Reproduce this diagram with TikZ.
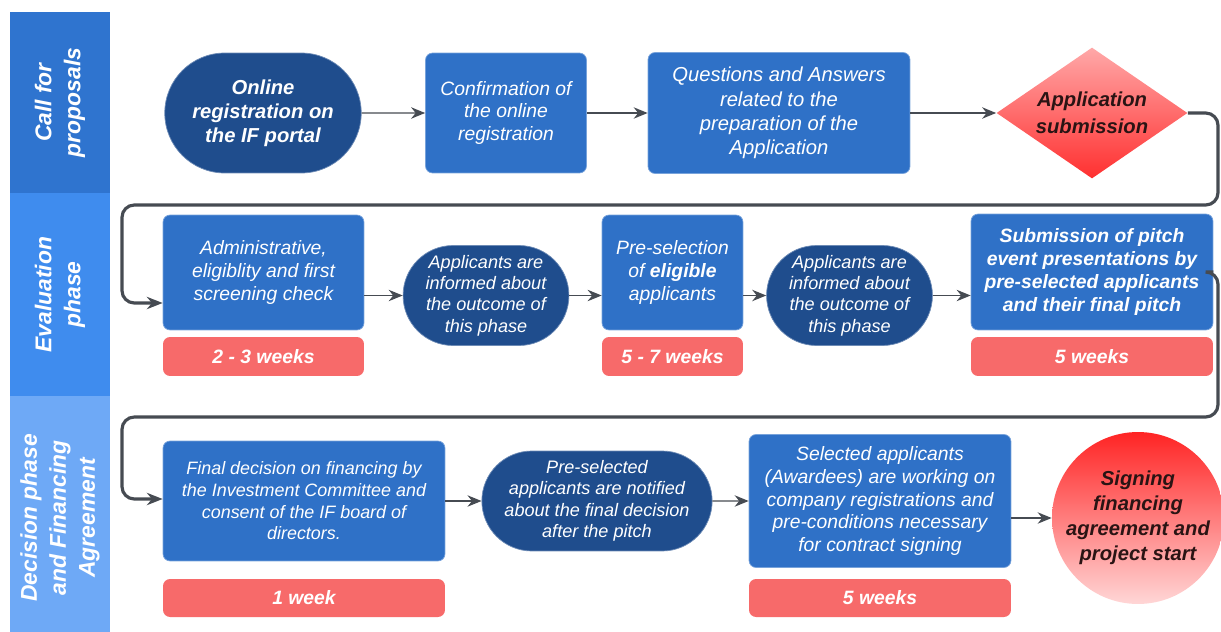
\documentclass[tikz,border=0pt]{standalone}
\usepackage{fontspec}
\setmainfont{Liberation Sans}
\usetikzlibrary{arrows.meta,shapes.geometric,shapes.misc}

\definecolor{laneA}{HTML}{2F74CF}
\definecolor{laneB}{HTML}{3F8CEE}
\definecolor{laneC}{HTML}{6EA9F6}
\definecolor{boxblue}{HTML}{2F71C7}
\definecolor{navy}{HTML}{1F4D8D}
\definecolor{weekred}{HTML}{F76A6A}
\definecolor{linegray}{HTML}{464B52}
\definecolor{darkred}{HTML}{2A1414}
\definecolor{subtop}{HTML}{FFA8A8}
\definecolor{subbottom}{HTML}{FF3030}
\definecolor{signtop}{HTML}{FF2424}
\definecolor{signbottom}{HTML}{FFD6D6}

\begin{document}
\begin{tikzpicture}[
  x=0.02cm, y=-0.02cm,
  lane/.style={fill=#1, rotate=90, text=white, align=center, inner sep=0pt,
               minimum height=2cm, font=\bfseries\itshape\fontsize{13}{16.5}\selectfont},
  stepbox/.style={fill=boxblue, draw=boxblue!65!white, line width=0.4pt, rounded corners=4pt,
                  text=white, align=center, inner sep=2pt, font=\itshape\fontsize{11}{13}\selectfont},
  notice/.style={rounded rectangle, fill=navy, draw=navy!65!white, line width=0.4pt,
                 text=white, align=center, inner sep=1pt,
                 font=\itshape\fontsize{10.3}{12.2}\selectfont},
  weeks/.style={fill=weekred, rounded corners=4pt, text=white, minimum height=0.78cm,
                font=\bfseries\itshape\fontsize{11}{13}\selectfont},
  arr/.style={-{Stealth[length=8pt,width=6.5pt]}, line width=0.8pt, draw=linegray},
  wrap/.style={-{Stealth[length=9pt,width=7pt]}, line width=1.8pt, draw=linegray,
               rounded corners=7pt},
]
\useasboundingbox (0,0) rectangle (1221,632);

% ===== Lanes =====
\node[lane=laneA, minimum width=3.62cm] (laneCall) at (60,102.5) {Call for\\proposals};
\node[lane=laneB, minimum width=4.06cm] (laneEval) at (60,294.5) {Evaluation\\phase};
\node[lane=laneC, minimum width=4.88cm] (laneDec) at (60,518) {Decision phase\\and Financing\\Agreement};

% ===== Row 1: Call for proposals =====
\node[notice, font=\bfseries\itshape\fontsize{11.5}{13.6}\selectfont,
      minimum width=4cm, minimum height=2.4cm] (online) at (263,113)
  {Online\\registration on\\the IF portal};
\node[stepbox, minimum width=3.22cm, minimum height=2.4cm] (confirm) at (506,113)
  {Confirmation of\\the online\\registration};
\node[stepbox, font=\itshape\fontsize{11.5}{13.8}\selectfont,
      minimum width=5.24cm, minimum height=2.42cm] (qa) at (779,113)
  {Questions and Answers\\related to the\\preparation of the\\Application};
\node[diamond, aspect=1.46, inner sep=0pt, minimum width=3.82cm, minimum height=2.62cm,
      top color=subtop, bottom color=subbottom, text=darkred, align=center,
      font=\bfseries\itshape\fontsize{11.5}{15.5}\selectfont] (submit) at (1092,113)
  {Application\\submission};

\draw[arr] (online) -- (confirm);
\draw[arr] (confirm) -- (qa);
\draw[arr] (qa) -- (submit);

% ===== Row 2: Evaluation phase =====
\node[stepbox, minimum width=4.02cm, minimum height=2.3cm] (admin) at (263.5,272.5)
  {Administrative,\\eligiblity and first\\screening check};
\node[weeks, minimum width=4.02cm] (weeksA) at (263.5,356.5) {2 - 3 weeks};
\node[notice, minimum width=3.2cm, minimum height=2cm] (informA) at (486,295.5)
  {Applicants are\\informed about\\the outcome of\\this phase};
\node[stepbox, minimum width=2.82cm, minimum height=2.3cm] (presel) at (672.5,272.5)
  {Pre-selection\\of \textbf{eligible}\\applicants};
\node[weeks, minimum width=2.82cm] (weeksB) at (672.5,356.5) {5 - 7 weeks};
\node[notice, minimum width=3.2cm, minimum height=2cm] (informB) at (849.5,295.5)
  {Applicants are\\informed about\\the outcome of\\this phase};
\node[stepbox, font=\bfseries\itshape\fontsize{11}{13}\selectfont,
      minimum width=4.84cm, minimum height=2.32cm] (pitch) at (1092,272)
  {Submission of pitch\\event presentations by\\pre-selected applicants\\and their final pitch};
\node[weeks, minimum width=4.84cm] (weeksC) at (1092,356.5) {5 weeks};

\draw[arr] (admin.east |- informA) -- (informA);
\draw[arr] (informA.east) -- (presel.west |- informA.east);
\draw[arr] (presel.east |- informB) -- (informB);
\draw[arr] (informB.east) -- (pitch.west |- informB.east);

% ===== Row 3: Decision phase =====
\node[stepbox, font=\itshape\fontsize{10.2}{12.3}\selectfont,
      minimum width=5.64cm, minimum height=2.4cm] (final) at (304,501)
  {Final decision on financing by\\the Investment Committee and\\consent of the IF board of\\directors.};
\node[weeks, minimum width=5.64cm, minimum height=0.76cm] (weeksD) at (304,598) {1 week};
\node[notice, minimum width=4.42cm, minimum height=2cm] (notify) at (597,501)
  {Pre-selected\\applicants are notified\\about the final decision\\after the pitch};
\node[stepbox, minimum width=5.24cm, minimum height=2.66cm] (awardees) at (880,501)
  {Selected applicants\\(Awardees) are working on\\company registrations and\\pre-conditions necessary\\for contract signing};
\node[weeks, minimum width=5.24cm, minimum height=0.76cm] (weeksE) at (880,598) {5 weeks};
\node[circle, minimum size=3.44cm, inner sep=0pt, top color=signtop, bottom color=signbottom,
      text=darkred, align=center, font=\bfseries\itshape\fontsize{11.5}{14.2}\selectfont]
  (signing) at (1138,518) {Signing\\financing\\agreement and\\project start};

\draw[arr] (final) -- (notify);
\draw[arr] (notify) -- (awardees);
\draw[arr] (awardees.east |- signing) -- (signing);

% ===== Row changes =====
\coordinate (edgeA) at (1218,205);
\coordinate (backA) at (122,303);
\draw[wrap] (submit.east) -| (edgeA) -| (backA) -- (admin.west |- backA);

\coordinate (edgeB) at (1218,417);
\coordinate (backB) at (122,499);
\draw[wrap] (pitch.east) -| (edgeB) -| (backB) -- (final.west |- backB);

\end{tikzpicture}
\end{document}
